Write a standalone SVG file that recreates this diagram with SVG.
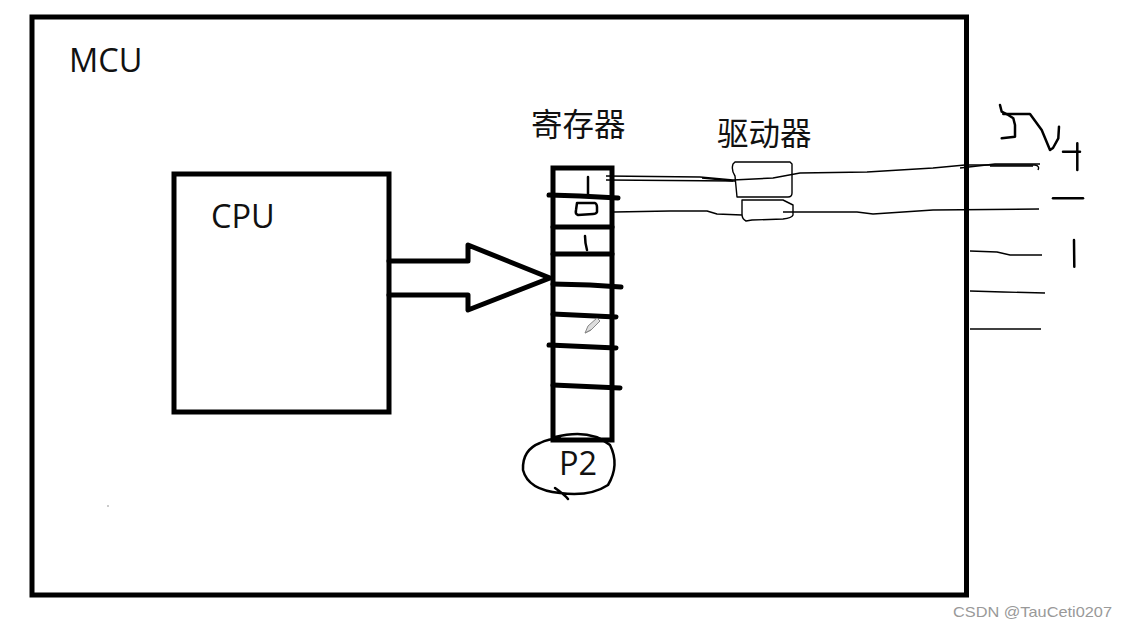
<svg xmlns="http://www.w3.org/2000/svg" width="1127" height="630" viewBox="0 0 1127 630">
<style>
.box{fill:none;stroke:#000;stroke-width:5}
.thick{fill:none;stroke:#000;stroke-width:5;stroke-linecap:round;stroke-linejoin:round}
.wire{fill:none;stroke:#000;stroke-width:1.4;stroke-linejoin:round}
.hand{fill:none;stroke:#000;stroke-width:2.5;stroke-linecap:round;stroke-linejoin:round}
.lbl{font-family:"Open Sans","Noto Sans",sans-serif;font-size:32.5px;fill:#111}
.cjk{font-family:"Noto Sans CJK SC",sans-serif;font-size:31.5px;fill:#111}
</style>
<rect width="1127" height="630" fill="#fff"/>
<g id="mcu">
<rect class="box" x="32" y="17" width="934.5" height="578"/>
<text class="lbl" x="69" y="72">MCU</text>
</g>
<g id="cpu">
<rect class="box" x="174" y="174" width="215" height="238"/>
<text class="lbl" x="211" y="228">CPU</text>
</g>
<g id="register">
<rect class="box" x="553" y="168" width="59" height="272"/>
<path class="thick" d="M549,195 L580,196 L618,198"/>
<path class="thick" d="M553,227 L612,227"/>
<path class="thick" d="M553,254 L612,254"/>
<path class="thick" d="M553,284 L590,285 L621,287"/>
<path class="thick" d="M553,314 L616,317"/>
<path class="thick" d="M549,345 L616,348"/>
<path class="thick" d="M553,385 L620,388"/>
<path class="hand" d="M588,177 L588,195" stroke-width="2"/>
<path class="hand" d="M577,203 L595,203 Q597,204 597,207 L597,212 Q596,214 593,214 L578,215 Q575,214 576,210 Z" stroke-width="2.2"/>
<path class="hand" d="M585,236 Q585,243 587,250" stroke-width="2"/>
<path d="M585,333 L588,326 L597,318 L600,321 L591,330 Z M585,333 L591,330" fill="#ddd" stroke="#888" stroke-width="1"/>
<text class="cjk" x="531" y="136">寄存器</text>
</g>
<g id="p2">
<path class="hand" d="M555,437 Q590,428 610,445 Q620,465 608,485 Q590,497 560,493 Q528,490 523,470 Q522,450 540,443 Q548,439 560,438 M555,488 Q565,495 568,499" stroke-width="1.8"/>
<text class="lbl" x="559" y="475">P2</text>
</g>
<g id="driver">
<path class="wire" d="M735,162 L790,162 L792,164 L792,193 Q792,197 788,197 L737,197 L735,176 Q731,170 733,164 Z"/>
<path class="wire" d="M742,200 L783,200 L793,205 L793,215 Q792,218 783,219 L752,220 L746,221 Q742,219 742,214 Z"/>
<text class="cjk" x="717" y="145">驱动器</text>
</g>
<g id="connectors">
<path class="wire" d="M606,176 L700,177 L733,180 L773,178 L800,173 L867,172 L933,168 L965,165 L1035,165 Q1040,166 1038,170" stroke-width="2"/>
<path class="wire" d="M702,178 L733,181" stroke-width="3"/>
<path class="wire" d="M990,166 L1033,166" stroke-width="2.6"/>
<path class="wire" d="M606,180 L735,181"/>
<path class="wire" d="M960,168 L995,164 L1040,164"/>
<path class="wire" d="M614,212 L670,211 L707,211 L717,214 L742,215"/>
<path class="wire" d="M783,212 L857,212 L873,214 L933,210 L1039,209"/>
<path class="wire" d="M970,251 L997,252 L1010,255 L1042,255"/>
<path class="wire" d="M970,291 L1003,292 L1045,293"/>
<path class="wire" d="M970,329 L1041,329"/>
<path class="thick" d="M389,261 L468,261 L468,245 L550,278 L468,310 L468,295 L389,295"/>
</g>
<g id="supply">
<path class="hand" d="M1000,105 L1001.7,111.7 L1008.3,115 L1013.3,118.3 L1015,125 L1015,136.7 L1001.7,138.3"/>
<path class="hand" d="M1003.3,114 L1030,114 L1041.7,130 L1050,150 L1053,148 L1058.3,138.3 L1059,126.7"/>
<path class="hand" d="M1077.3,143.3 L1077.3,170 M1063,151.7 L1080,151.7"/>
<path class="hand" d="M1053,198.3 L1083,198.3"/>
<path class="hand" d="M1074,240 L1074.3,266.7"/>
</g>
<circle cx="108" cy="506" r="0.8" fill="#888"/>
<text x="953" y="617" font-family="Liberation Sans, Arial, sans-serif" font-size="15" fill="#999" textLength="159" lengthAdjust="spacingAndGlyphs">CSDN @TauCeti0207</text>
</svg>
